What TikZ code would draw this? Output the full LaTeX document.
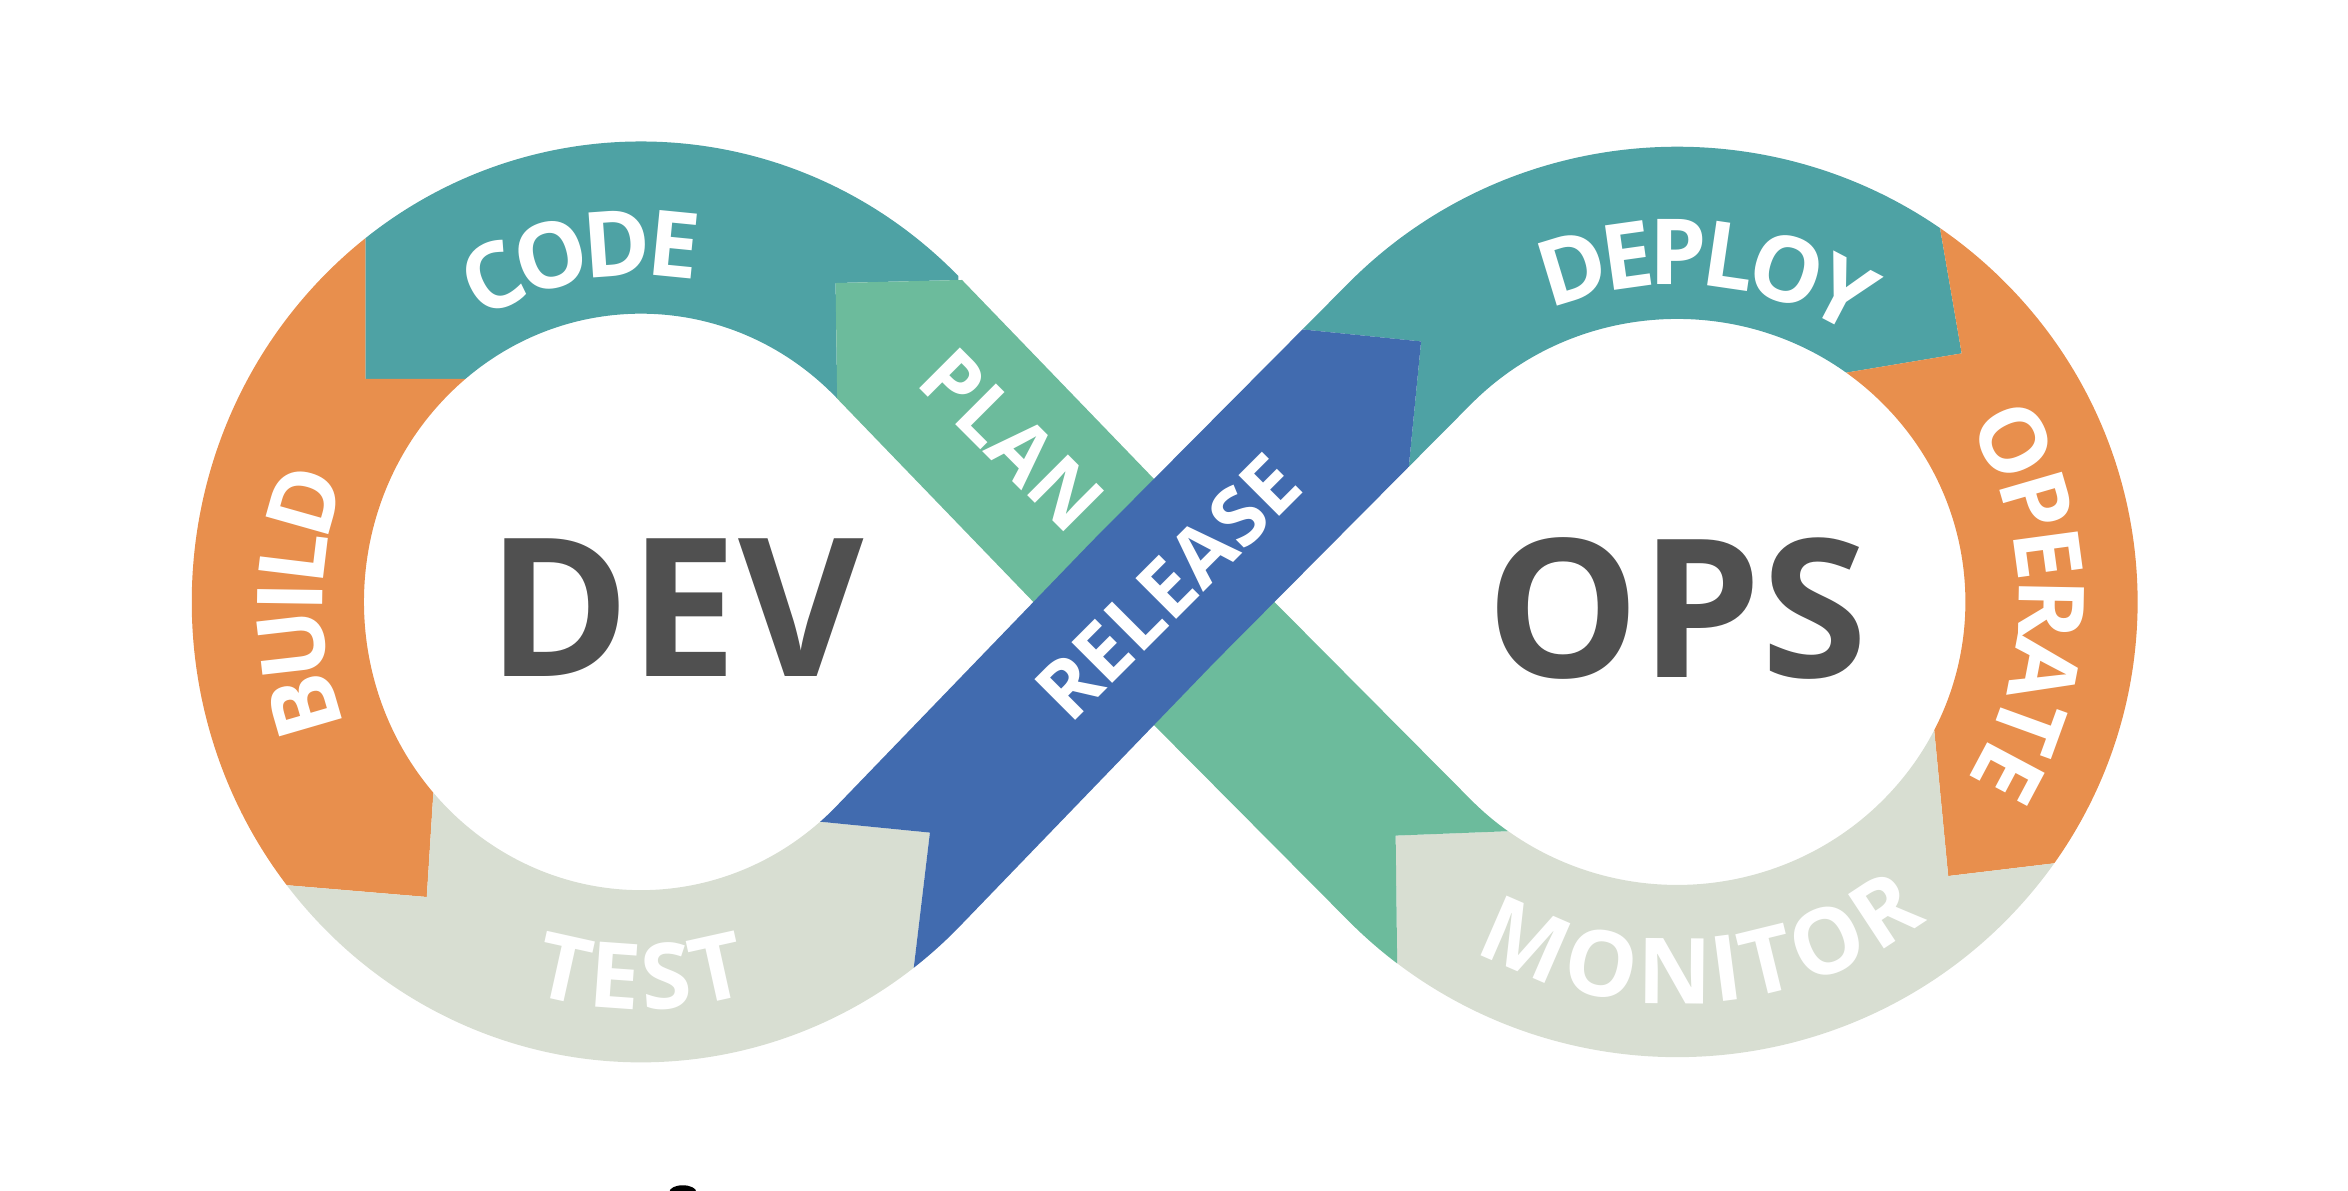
\documentclass[tikz,border=0pt]{standalone}
\usepackage{fontspec}
\setsansfont{Open Sans}
\usetikzlibrary{decorations.text}
\definecolor{tealband}{HTML}{4EA2A4}
\definecolor{greenband}{HTML}{6CBB9C}
\definecolor{orangeband}{HTML}{E88F4D}
\definecolor{greyband}{HTML}{D8DED2}
\definecolor{blueband}{HTML}{416BAF}
\definecolor{wordgrey}{HTML}{505050}
\newcommand\labelfont{\sffamily\bfseries\fontsize{26}{26}\selectfont}
\newcommand\diagfont{\sffamily\bfseries\fontsize{23}{23}\selectfont}
% centre line of the whole figure of eight
\def\infinity{(770,402) -- (600.1,225.8) arc[start angle=-44.8,end angle=-315.2,x radius=242.5,y radius=250]
  -- (770,402) -- (941.4,229.5) arc[start angle=224.4,end angle=495.6,x radius=250,y radius=246.5] -- cycle}
\def\greenline{(428,402) ++(-65:242.5 and 250) arc[start angle=-65,end angle=-44.8,x radius=242.5,y radius=250]
  -- (770,402) -- (941.4,574.5) arc[start angle=135.6,end angle=105,x radius=250,y radius=246.5]}
\def\blueline{(428,402) ++(75:242.5 and 250) arc[start angle=75,end angle=44.8,x radius=242.5,y radius=250]
  -- (770,402) -- (941.4,229.5) arc[start angle=224.4,end angle=250,x radius=250,y radius=246.5]}
\tikzset{
  band/.style={line width=1.725cm},
  steplabel/.style={decorate,decoration={text along path,text color=white,
    text align=center,raise=-0.33cm,text={|\labelfont|#1}}},
  diaglabel/.style={decorate,decoration={text along path,text color=white,
    text align=center,raise=-0.29cm,text={|\diagfont|#1}}},
  bigword/.style={font=\sffamily\bfseries\fontsize{55}{55}\selectfont,text=wordgrey,inner sep=0pt}
}
\begin{document}
\begin{tikzpicture}[x=0.015cm,y=-0.015cm]
  \useasboundingbox (0,0) rectangle (1568,795);
  \begin{scope}
    \clip (244,0) -- (244,253) -- (440,253) -- (560,330) -- (558,189) -- (640,187) -- (640,0) -- cycle;
    \draw[band,tealband] \infinity;
  \end{scope}
  \begin{scope}
    \clip (0,0) -- (244,0) -- (244,253) -- (440,253) -- (420,520) -- (290,520) -- (285,599) -- (0,575) -- cycle;
    \draw[band,orangeband] \infinity;
  \end{scope}
  \begin{scope}
    \clip (0,575) -- (285,599) -- (290,520) -- (420,520) -- (500,544) -- (621,556) -- (610,648) -- (598,800) -- (0,800) -- cycle;
    \draw[band,greyband] \infinity;
  \end{scope}
  \begin{scope}
    \clip (800,0) -- (800,213) -- (870,220) -- (949,228) -- (938,340) -- (1100,330) -- (1232,249) -- (1310,236) -- (1296,155) -- (1280,0) -- cycle;
    \draw[band,tealband] \infinity;
  \end{scope}
  \begin{scope}
    \clip (1280,0) -- (1296,155) -- (1310,236) -- (1232,249) -- (1150,400) -- (1289,460) -- (1301,585) -- (1376,576) -- (1568,553) -- (1568,0) -- cycle;
    \draw[band,orangeband] \infinity;
  \end{scope}
  \begin{scope}
    \clip (1568,553) -- (1376,576) -- (1301,585) -- (1289,460) -- (1150,400) -- (1060,553) -- (932,558) -- (933,641) -- (934,800) -- (1568,800) -- cycle;
    \draw[band,greyband] \infinity;
  \end{scope}
  \begin{scope}
    \clip (560,330) -- (558,189) -- (640,187) -- (720,186) -- (1000,400) -- (1060,553) -- (932,558) -- (933,641) -- (934,800) -- (600,800) -- cycle;
    \draw[band,greenband] \greenline;
  \end{scope}
  \begin{scope}
    \clip (500,544) -- (621,556) -- (610,648) -- (598,800) -- (850,560) -- (938,340) -- (949,228) -- (870,220) -- (800,213) -- (650,330) -- cycle;
    \draw[band,blueband] \blueline;
  \end{scope}

  \path[steplabel=CODE,decoration={raise=-0.48cm}] (428,402) ++(-160:242.5 and 250) arc[start angle=-160,end angle=-40,x radius=242.5,y radius=250];
  \path[steplabel=BUILD,decoration={raise=-0.45cm}] (428,402) ++(125:242.5 and 250) arc[start angle=125,end angle=235,x radius=242.5,y radius=250];
  \path[steplabel=TEST] (428,402) ++(125:242.5 and 250) arc[start angle=125,end angle=55,x radius=242.5,y radius=250];
  \path[diaglabel=PLAN,decoration={raise=-0.16cm}] (590,220) -- (750,380);
  \path[diaglabel=RELEASE] (690,482) -- (870,302);
  \path[steplabel=DEPLOY,decoration={raise=-0.52cm}] (1120,402) ++(-145:250 and 246.5) arc[start angle=-145,end angle=-25,x radius=250,y radius=246.5];
  \path[steplabel=OPERATE] (1120,402) ++(-65:250 and 246.5) arc[start angle=-65,end angle=65,x radius=250,y radius=246.5];
  \path[steplabel=MONITOR] (1120,402) ++(150:250 and 246.5) arc[start angle=150,end angle=22,x radius=250,y radius=246.5];

  \node[bigword] (dev) at (451,406) {DEV};
  \node[bigword] (ops) at (1120,406) {OPS};
  \fill (456,796) ellipse[x radius=9,y radius=4.5];
\end{tikzpicture}
\end{document}
